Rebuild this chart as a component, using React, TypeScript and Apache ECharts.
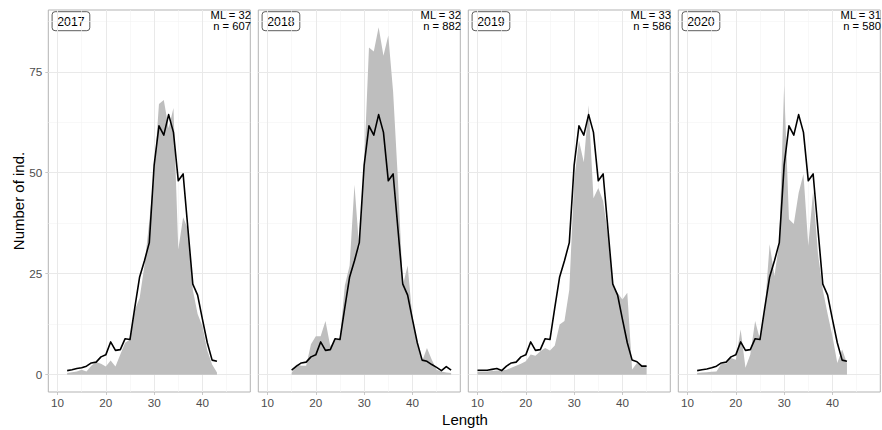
import React, { useEffect, useRef } from "react";
import * as echarts from "echarts";

const FONT = "'Liberation Sans', Arial, Helvetica, sans-serif";

// Length classes (x axis)
const lengths = [
  10, 11, 12, 13, 14, 15, 16, 17, 18, 19, 20, 21, 22, 23, 24, 25, 26, 27, 28, 29,
  30, 31, 32, 33, 34, 35, 36, 37, 38, 39, 40, 41, 42, 43, 44, 45, 46, 47, 48,
];

const years = ["2017", "2018", "2019", "2020"];
const meanLength = [32, 32, 33, 31];
const nInd = [607, 882, 586, 580];

// Yearly length-frequency (grey area), aligned to `lengths`
const grey2017 = [
  null, null, 0.4, 0.6, 0.8, 1.2, 0.8, 2.2, 3.1, 2.7, 2.0, 3.5, 2.0, 5.0, 7.9, 8.7,
  16, 19, 27, 38, 50, 67, 68, 61, 66, 31, 39, 36, 21, 15, 12, 6, 2.5, 0.5,
  null, null, null, null, null,
];
const grey2018 = [
  null, null, null, null, null, 0.4, 2.5, 2.2, 2.2, 7.5, 9.5, 9.5, 13.3, 7, 8.5, 9,
  22, 27, 47, 31, 52, 81, 80, 86, 79, 84, 70, 48, 22, 27, 14, 7.5, 3.3, 6.6, 3.7,
  1.2, 0.8, 0.5, 0.4,
];
const grey2019 = [
  0.8, 0.8, 0.8, 0.9, 1.0, 1.0, 1.2, 1.7, 2.2, 2.7, 3.3, 5, 4.7, 5.8, 6.6, 6,
  7.2, 12.4, 13.3, 21, 48, 58, 52.6, 66.7, 43.7, 46.2, 43, 34.5, 22, 20.2, 18.6,
  20.3, 1.3, 2.9, 2.1, 2.1, null, null, null,
];
const grey2020 = [
  null, null, 0.4, 0.5, 0.6, 0.7, 0.8, 2.7, 2.7, 4.1, 3.7, 11.2, 1.7, 5, 13.3, 8.7,
  16, 32.3, 24.4, 33, 71.6, 38.5, 37.3, 45, 49.7, 31.9, 45.5, 30, 21, 15, 9.5,
  2.9, 6.2, 2.9, null, null, null, null, null,
];

// Mean frequency over the years (black line), lengths 16..41
const meanCore = [
  2.1, 2.9, 3.1, 4.4, 4.9, 8.1, 6.0, 6.2, 8.9, 8.7, 16.6, 24.2, 28.2, 32.7, 51.8,
  61.6, 59.3, 64.4, 60.0, 48.0, 49.7, 36.0, 22.4, 19.7, 13.7, 7.9,
];
const line2017 = [null, null, 1.0, 1.2, 1.5, 1.7, ...meanCore, 3.6, 3.3, null, null, null, null, null];
const line2018 = [null, null, null, null, null, 1.1, ...meanCore, 3.6, 3.3, 2.5, 1.8, 1.0, 2.0, 1.1];
const line2019 = [1.1, 1.1, 1.1, 1.3, 1.5, 1.0, ...meanCore, 3.6, 3.2, 2.1, 2.1, null, null, null];
const line2020 = [null, null, 1.0, 1.2, 1.4, 1.7, ...meanCore, 3.6, 3.3, null, null, null, null, null];

const greyByYear = [grey2017, grey2018, grey2019, grey2020];
const lineByYear = [line2017, line2018, line2019, line2020];

const xTicks = [10, 20, 30, 40];
const yTicks = [0, 25, 50, 75];
const xMinor = [15, 25, 35, 45];
const yMinor = [12.5, 37.5, 62.5, 87.5];

const toPairs = (vals: (number | null)[]) =>
  lengths
    .map((L, i) => [L, vals[i]] as [number, number | null])
    .filter((p) => p[1] !== null);

export default function App() {
  const ref = useRef<HTMLDivElement>(null);

  useEffect(() => {
    if (!ref.current) return;
    const chart = echarts.init(ref.current, null, { renderer: "svg" });

    const grids: any[] = [];
    const xAxes: any[] = [];
    const yAxes: any[] = [];
    const series: any[] = [];
    const graphics: any[] = [];

    const PW = 202;
    const PH = 382;
    const TOP = 10;

    years.forEach((yr, i) => {
      const left = 48.3 + 210 * i;
      grids.push({
        left,
        top: TOP,
        width: PW,
        height: PH,
        show: true,
        backgroundColor: "#ffffff",
        borderColor: "#b3b3b3",
        borderWidth: 1,
      });
      xAxes.push({
        type: "value",
        gridIndex: i,
        min: 8.1,
        max: 49.9,
        axisLine: { show: false, onZero: false },
        splitLine: { show: false },
        axisTick: {
          show: true,
          customValues: xTicks,
          length: 3,
          lineStyle: { color: "#b3b3b3", width: 0.7 },
        },
        axisLabel: {
          customValues: xTicks,
          margin: 4,
          color: "#4d4d4d",
          fontSize: 11.7,
          fontFamily: FONT,
        },
      });
      yAxes.push({
        type: "value",
        gridIndex: i,
        min: -4.3,
        max: 90.3,
        axisLine: { show: false, onZero: false },
        splitLine: { show: false },
        axisTick: {
          show: i === 0,
          customValues: yTicks,
          length: 3,
          lineStyle: { color: "#b3b3b3", width: 0.7 },
        },
        axisLabel: {
          show: i === 0,
          customValues: yTicks,
          margin: 6,
          color: "#4d4d4d",
          fontSize: 11.7,
          fontFamily: FONT,
        },
      });

      const major = { color: "#e9e9e9", width: 1, type: "solid" };
      const minor = { color: "#f4f4f4", width: 0.6, type: "solid" };

      series.push({
        type: "line",
        name: "grid" + yr,
        xAxisIndex: i,
        yAxisIndex: i,
        data: [],
        silent: true,
        z: 1,
        markLine: {
          silent: true,
          symbol: "none",
          z: 1,
          animation: false,
          label: { show: false },
          emphasis: { disabled: true },
          data: [
            ...xMinor.map((v) => ({ xAxis: v, lineStyle: minor })),
            ...yMinor.map((v) => ({ yAxis: v, lineStyle: minor })),
            ...xTicks.map((v) => ({ xAxis: v, lineStyle: major })),
            ...yTicks.map((v) => ({ yAxis: v, lineStyle: major })),
          ],
        },
      });

      series.push({
        type: "line",
        name: "freq" + yr,
        xAxisIndex: i,
        yAxisIndex: i,
        data: toPairs(greyByYear[i]),
        showSymbol: false,
        symbol: "none",
        silent: true,
        z: 2,
        lineStyle: { width: 0, opacity: 0 },
        areaStyle: { color: "#bebebe", opacity: 1 },
      });

      series.push({
        type: "line",
        name: "mean" + yr,
        xAxisIndex: i,
        yAxisIndex: i,
        data: toPairs(lineByYear[i]),
        showSymbol: false,
        symbol: "none",
        silent: true,
        z: 3,
        lineStyle: { color: "#000000", width: 1.6, join: "round" },
      });

      // year label box
      graphics.push({
        type: "group",
        x: left + 3.8,
        y: 11.7,
        z: 100,
        children: [
          {
            type: "rect",
            shape: { x: 0, y: 0, width: 37.7, height: 19, r: 3 },
            style: { fill: "#ffffff", stroke: "#333333", lineWidth: 0.8 },
          },
          {
            type: "text",
            x: 18.85,
            y: 9.8,
            style: {
              text: yr,
              align: "center",
              verticalAlign: "middle",
              font: `12.3px ${FONT}`,
              fill: "#000000",
            },
          },
        ],
      });

      // ML / n annotation
      graphics.push({
        type: "text",
        x: left + PW + 0.6,
        y: 9,
        z: 100,
        style: {
          text: `ML = ${meanLength[i]}\nn = ${nInd[i]}`,
          align: "right",
          verticalAlign: "top",
          font: `11.2px ${FONT}`,
          lineHeight: 11.5,
          fill: "#000000",
        },
      });
    });

    graphics.push({
      type: "text",
      x: 18,
      y: TOP + PH / 2,
      rotation: Math.PI / 2,
      z: 100,
      style: {
        text: "Number of ind.",
        align: "center",
        verticalAlign: "middle",
        font: `15px ${FONT}`,
        fill: "#000000",
      },
    });
    graphics.push({
      type: "text",
      x: 465,
      y: 419,
      z: 100,
      style: {
        text: "Length",
        align: "center",
        verticalAlign: "middle",
        font: `15px ${FONT}`,
        fill: "#000000",
      },
    });

    chart.setOption({
      animation: false,
      backgroundColor: "#ffffff",
      grid: grids,
      xAxis: xAxes,
      yAxis: yAxes,
      series,
      graphic: graphics,
    });

    return () => chart.dispose();
  }, []);

  return (
    <div
      ref={ref}
      style={{ position: "absolute", left: 0, top: 0, width: 882, height: 430 }}
    />
  );
}
